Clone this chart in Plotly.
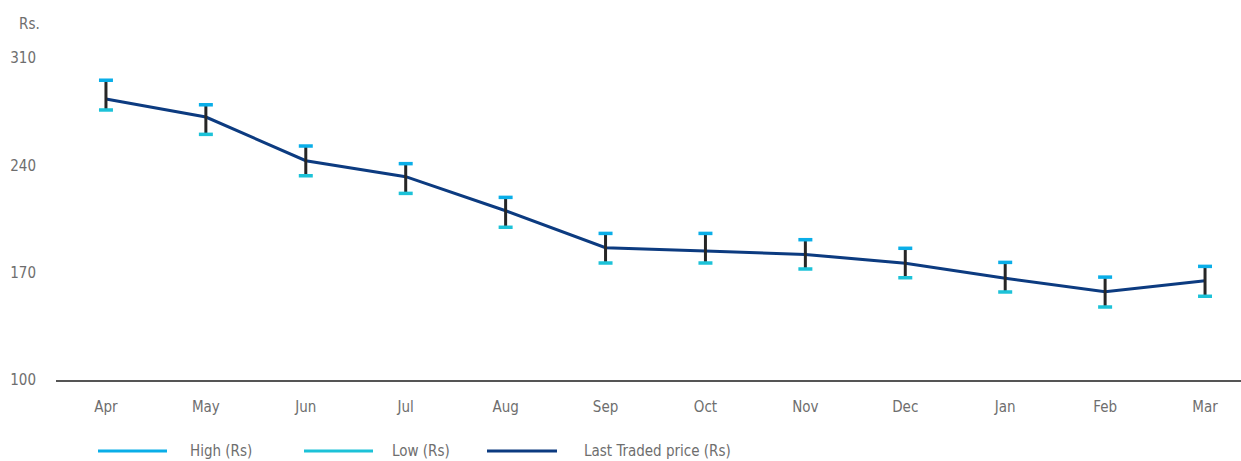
import plotly.graph_objects as go

# Monthly share price (Rs.)
months = ["Apr", "May", "Jun", "Jul", "Aug", "Sep", "Oct", "Nov", "Dec", "Jan", "Feb", "Mar"]
high = [295.5, 279.5, 252.6, 241.1, 219.1, 195.6, 195.6, 191.5, 185.9, 176.7, 167.1, 174.1]
low = [276.1, 260.2, 233.2, 221.7, 199.6, 176.3, 176.3, 172.4, 166.7, 157.4, 147.6, 154.6]
last_traded = [283.3, 271.5, 243.0, 232.6, 210.4, 186.3, 184.1, 181.9, 176.1, 166.3, 157.6, 164.7]
y_ticks = [100, 170, 240, 310]

HIGH_C = "#0aaee8"
LOW_C = "#1cc2d8"
LTP_C = "#0c3b80"
BAR_C = "#262626"
TEXT_C = "#6e6e6e"
FONT = "DejaVu Sans Condensed, sans-serif"
FS = 15

fig = go.Figure()

# Last traded price line
fig.add_trace(go.Scatter(x=months, y=last_traded, mode="lines",
                         line=dict(color=LTP_C, width=3), hoverinfo="skip"))

# High-low range bars
bx, by = [], []
for m, h, l in zip(months, high, low):
    bx += [m, m, None]
    by += [l, h, None]
fig.add_trace(go.Scatter(x=bx, y=by, mode="lines",
                         line=dict(color=BAR_C, width=3), hoverinfo="skip"))

# Caps at high and low
fig.add_trace(go.Scatter(x=months, y=high, mode="markers",
                         marker=dict(symbol="line-ew", size=10,
                                     line=dict(color=HIGH_C, width=3.5))))
fig.add_trace(go.Scatter(x=months, y=low, mode="markers",
                         marker=dict(symbol="line-ew", size=10,
                                     line=dict(color=LOW_C, width=3.5))))

# Legend drawn below the axis
W, H = 1241, 461
L, T, B = 56, 58, 380
legend_items = [("High (Rs)", HIGH_C, 98, 167, 188),
                ("Low (Rs)", LOW_C, 304, 373, 390),
                ("Last Traded price (Rs)", LTP_C, 487, 557, 582)]
ly = -(451 - B) / (B - T)
for name, col, x0, x1, tx in legend_items:
    fig.add_shape(type="line", xref="paper", yref="paper",
                  x0=(x0 - L) / (W - L), x1=(x1 - L) / (W - L), y0=ly, y1=ly,
                  line=dict(color=col, width=3))
    fig.add_annotation(text=name, xref="paper", yref="paper",
                       x=(tx - L) / (W - L), y=ly,
                       xanchor="left", yanchor="middle", showarrow=False,
                       font=dict(family=FONT, size=FS, color=TEXT_C))

fig.add_annotation(text="Rs.", xref="paper", yref="paper",
                   x=-(L - 17) / (W - L), y=1 + (T - 24) / (B - T),
                   xanchor="left", yanchor="middle", showarrow=False,
                   font=dict(family=FONT, size=FS, color=TEXT_C))

fig.update_layout(
    width=W, height=H,
    margin=dict(l=L, r=0, t=T, b=H - B),
    paper_bgcolor="white", plot_bgcolor="white",
    showlegend=False,
    font=dict(family=FONT, size=FS, color=TEXT_C),
    xaxis=dict(range=[-0.5, 11.36], showgrid=False, zeroline=False,
               showline=True, linecolor="#555555", linewidth=2,
               ticks="", ticklabelstandoff=12,
               tickfont=dict(family=FONT, size=FS, color=TEXT_C)),
    yaxis=dict(range=[100, 310], tickvals=y_ticks, showgrid=False,
               zeroline=False, showline=False, ticks="",
               ticklabelstandoff=19,
               tickfont=dict(family=FONT, size=FS, color=TEXT_C)),
)

fig.write_html("out.html")
